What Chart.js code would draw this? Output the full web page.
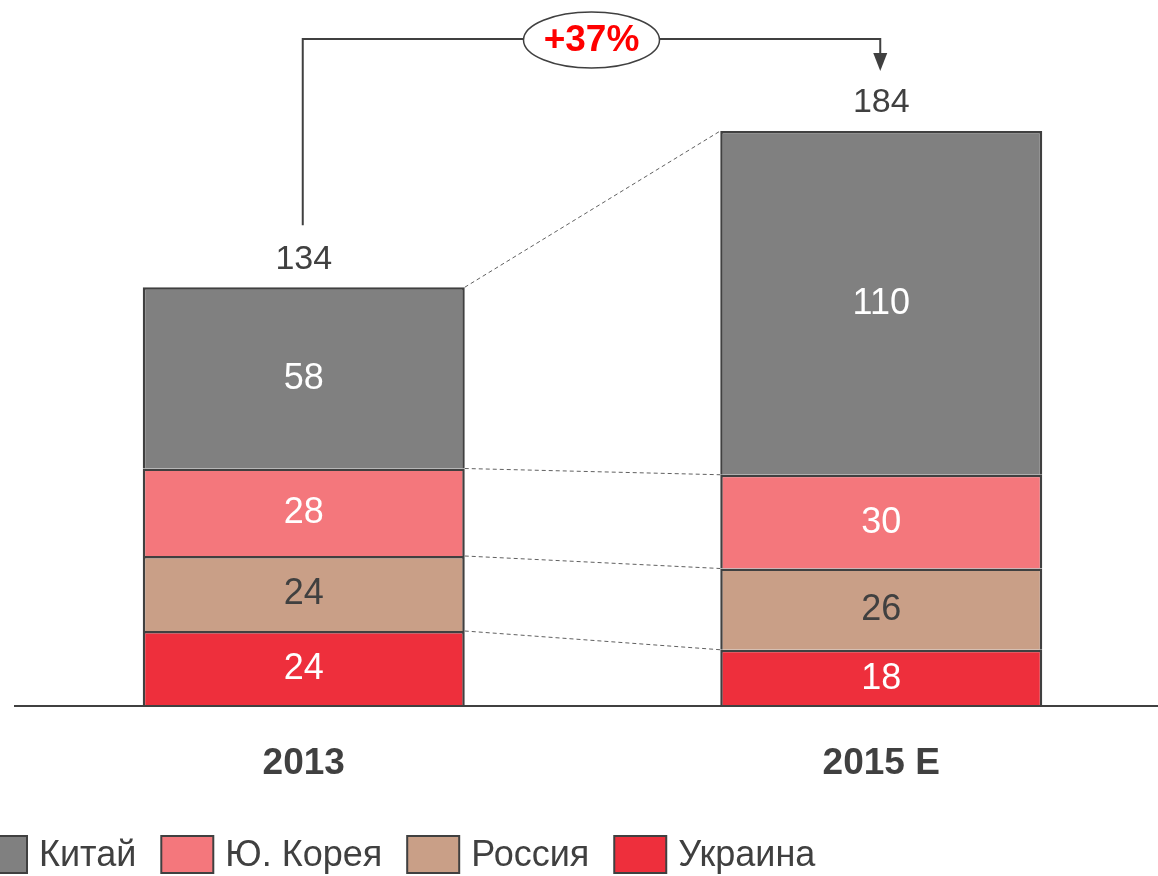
<!DOCTYPE html>
<html lang="ru">
<head>
    <meta charset="UTF-8">
    <title>Китай, Ю. Корея, Россия, Украина</title>
    <script src="https://cdn.jsdelivr.net/npm/chart.js"></script>
    <style>
        html, body { margin: 0; padding: 0; overflow: hidden; background: #fff; }
        #stackChart { display: block; }
    </style>
</head>
<body>
    <canvas id="stackChart" width="1170" height="876" style="width:1170px;height:876px;"></canvas>

    <script>
        // data
        const categories = ['2013', '2015 E'];
        const seriesNames = ['Украина', 'Россия', 'Ю. Корея', 'Китай'];
        const ukraine = [24, 18];
        const russia = [24, 26];
        const korea = [28, 30];
        const china = [58, 110];
        const totals = [134, 184];
        const growthLabel = '+37%';

        const colors = ['#EE2F3C', '#C99F87', '#F4777C', '#808080'];
        const labelColors = ['#FFFFFF', '#404040', '#FFFFFF', '#FFFFFF'];
        const ink = '#404040';
        const fontFamily = '"Liberation Sans", Arial, sans-serif';

        const overlay = {
            id: 'overlay',
            afterDatasetsDraw(chart) {
                const ctx = chart.ctx;
                const area = chart.chartArea;
                const metas = chart.data.datasets.map((d, i) => chart.getDatasetMeta(i));

                ctx.save();

                // dashed connectors between the bars
                ctx.strokeStyle = '#606060';
                ctx.lineWidth = 1;
                ctx.setLineDash([4, 3]);
                metas.forEach(meta => {
                    const a = meta.data[0], b = meta.data[1];
                    ctx.beginPath();
                    ctx.moveTo(a.x + a.width / 2, a.y);
                    ctx.lineTo(b.x - b.width / 2, b.y);
                    ctx.stroke();
                });
                ctx.setLineDash([]);

                // values inside segments
                ctx.textAlign = 'center';
                ctx.textBaseline = 'middle';
                ctx.font = '36px ' + fontFamily;
                metas.forEach((meta, i) => {
                    meta.data.forEach((bar, j) => {
                        ctx.fillStyle = labelColors[i];
                        ctx.fillText(chart.data.datasets[i].data[j], bar.x, (bar.y + bar.base) / 2 + 1);
                    });
                });

                // totals above the bars
                const top = metas[metas.length - 1];
                ctx.fillStyle = ink;
                ctx.font = '34px ' + fontFamily;
                top.data.forEach((bar, j) => {
                    ctx.fillText(totals[j], bar.x, bar.y - 28);
                });

                // baseline
                ctx.strokeStyle = ink;
                ctx.lineWidth = 2;
                ctx.beginPath();
                ctx.moveTo(14, area.bottom);
                ctx.lineTo(chart.width, area.bottom);
                ctx.stroke();

                // category labels
                ctx.font = 'bold 37px ' + fontFamily;
                ctx.fillStyle = ink;
                const xs = chart.scales.x;
                categories.forEach((c, j) => {
                    ctx.fillText(c, xs.getPixelForValue(j), area.bottom + 58);
                });

                // growth bracket
                const b0 = top.data[0], b1 = top.data[1];
                const by = area.top - 42;
                const ex = b0.x - 1, ax = b1.x - 1;
                const ellX = (ex + ax) / 2;
                ctx.lineWidth = 2;
                ctx.strokeStyle = ink;
                ctx.beginPath();
                ctx.moveTo(ex, b0.y - 62);
                ctx.lineTo(ex, by);
                ctx.lineTo(ax, by);
                ctx.lineTo(ax, by + 15);
                ctx.stroke();
                ctx.fillStyle = ink;
                ctx.beginPath();
                ctx.moveTo(ax - 7, by + 14);
                ctx.lineTo(ax + 7, by + 14);
                ctx.lineTo(ax, by + 32);
                ctx.closePath();
                ctx.fill();

                ctx.beginPath();
                ctx.ellipse(ellX, by + 1, 68, 28, 0, 0, Math.PI * 2);
                ctx.fillStyle = '#FFFFFF';
                ctx.fill();
                ctx.lineWidth = 1.5;
                ctx.stroke();
                ctx.fillStyle = '#FF0000';
                ctx.font = 'bold 37px ' + fontFamily;
                ctx.fillText(growthLabel, ellX, by + 2);

                // legend
                ctx.font = '36px ' + fontFamily;
                ctx.textAlign = 'left';
                let lx = -25;
                const ly = 836;
                for (let i = chart.data.datasets.length - 1; i >= 0; i--) {
                    const ds = chart.data.datasets[i];
                    ctx.fillStyle = ds.backgroundColor;
                    ctx.fillRect(lx, ly, 52, 37);
                    ctx.strokeStyle = ink;
                    ctx.lineWidth = 2;
                    ctx.strokeRect(lx, ly, 52, 37);
                    ctx.fillStyle = ink;
                    ctx.fillText(ds.label, lx + 64, ly + 20);
                    lx += 64 + ctx.measureText(ds.label).width + 25;
                }

                ctx.restore();
            }
        };

        const values = [ukraine, russia, korea, china];

        new Chart(document.getElementById('stackChart'), {
            type: 'bar',
            data: {
                labels: categories,
                datasets: seriesNames.map((name, i) => ({
                    label: name,
                    data: values[i],
                    backgroundColor: colors[i],
                    borderColor: ink,
                    borderWidth: 2.5,
                    borderSkipped: 'bottom',
                    barPercentage: 0.5576,
                    categoryPercentage: 1
                }))
            },
            options: {
                responsive: false,
                animation: false,
                layout: { padding: { top: 81, bottom: 170, left: 15, right: 0 } },
                plugins: {
                    legend: { display: false },
                    tooltip: { enabled: false }
                },
                scales: {
                    x: { stacked: true, display: false },
                    y: { stacked: true, display: false, min: 0, max: 200 }
                }
            },
            plugins: [overlay]
        });
    </script>
</body>
</html>
